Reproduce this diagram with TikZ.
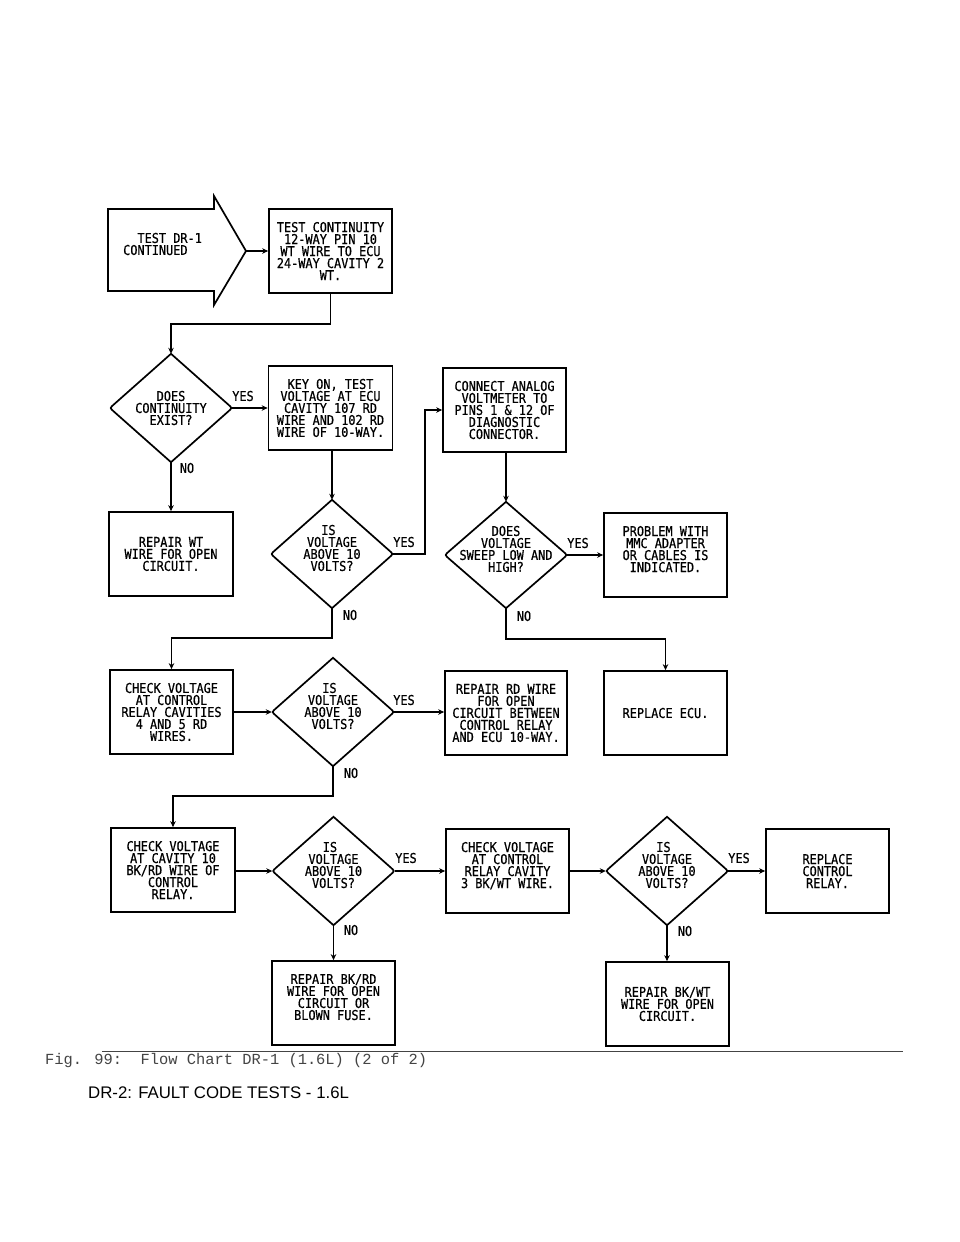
\documentclass[tikz,border=0pt]{standalone}
\usepackage{fontspec}
\usetikzlibrary{shapes.geometric,arrows.meta,calc}
\setmainfont{Liberation Sans}
\newfontfamily\chartfont[FakeStretch=0.88,FakeBold=0.6]{DejaVu Sans Mono}
\newfontfamily\capfont{Liberation Mono}
\newcommand\ind{\mbox{\ }}
\newcommand\decoutline[1]{\draw[ink,line join=miter]
  (#1.north) -- ($(#1.east)+(-4,-3.5)$) .. controls (#1.east) .. ($(#1.east)+(-4,3.5)$)
  -- (#1.south) -- ($(#1.west)+(4,3.5)$) .. controls (#1.west) .. ($(#1.west)+(4,-3.5)$) -- cycle;}
\definecolor{capgray}{HTML}{444444}
\tikzset{
  ink/.style={line width=1.7pt,draw=black},
  chartbox/.style 2 args={ink,shape=rectangle,inner sep=0pt,align=center,
    minimum width=#1pt,minimum height=#2pt,
    font={\chartfont\fontsize{13.5pt}{12pt}\selectfont}},
  decision/.style={shape=diamond,aspect=1.12,inner sep=0pt,
    minimum width=122pt,minimum height=108pt},
  dectext/.style={inner sep=0pt,align=center,
    font={\chartfont\fontsize{13.5pt}{12pt}\selectfont}},
  yn/.style={inner sep=0pt,font={\chartfont\fontsize{13.5pt}{12pt}\selectfont}},
  conn/.style={line width=1.6pt,draw=black,-{Stealth[length=6pt,width=5.5pt]}}
}
\begin{document}
\begin{tikzpicture}[x=1pt,y=-1pt]
\useasboundingbox[fill=white] (0,0) rectangle (960,1242);

% start arrow
\coordinate (starttip) at (246,251);
\draw[ink,line join=miter] (108,209) -- (214,209) -- (214,196) -- (starttip) -- (214,305) -- (214,291) -- (108,291) -- cycle;
\node[dectext,align=left,anchor=west] (startt) at (123,244) {\ind\ind TEST DR-1\\CONTINUED};

% row 1
\node[chartbox={123}{84}] (t1) at (330.5,251) {TEST CONTINUITY\\12-WAY PIN 10\\WT WIRE TO ECU\\24-WAY CAVITY 2\\WT.};

% row 2
\node[decision] (d1) at (171,408) {};
\decoutline{d1}
\node[dectext] (d1t) at (d1) {DOES\\CONTINUITY\\EXIST?};
\node[chartbox={124}{84}] (k) at (330.5,408) {KEY ON, TEST\\VOLTAGE AT ECU\\CAVITY 107 RD\\WIRE AND 102 RD\\WIRE OF 10-WAY.};
\node[chartbox={123}{84}] (c) at (504.5,410) {CONNECT ANALOG\\VOLTMETER TO\\PINS 1 \& 12 OF\\DIAGNOSTIC\\CONNECTOR.};

% row 3
\node[chartbox={124}{84}] (rw) at (171,554) {REPAIR WT\\WIRE FOR OPEN\\CIRCUIT.};
\node[decision] (d2) at (332,554) {};
\decoutline{d2}
\node[dectext,yshift=6pt] (d2t) at (d2) {IS\ind\\VOLTAGE\\ABOVE 10\\VOLTS?};
\node[decision,minimum height=106pt] (d3) at (506,555) {};
\decoutline{d3}
\node[dectext,yshift=6pt] (d3t) at (d3) {DOES\\VOLTAGE\\SWEEP LOW AND\\HIGH?};
\node[chartbox={123}{84}] (p) at (665.5,555) {PROBLEM WITH\\MMC ADAPTER\\OR CABLES IS\\INDICATED.\\\mbox{}};

% row 4
\node[chartbox={123}{84}] (chk1) at (171.5,712) {CHECK VOLTAGE\\AT CONTROL\\RELAY CAVITIES\\4 AND 5 RD\\WIRES.};
\node[decision] (d4) at (333,712) {};
\decoutline{d4}
\node[dectext,yshift=6pt] (d4t) at (d4) {IS\ind\\VOLTAGE\\ABOVE 10\\VOLTS?};
\node[chartbox={122}{84}] (rr) at (506,713) {REPAIR RD WIRE\\FOR OPEN\\CIRCUIT BETWEEN\\CONTROL RELAY\\AND ECU 10-WAY.};
\node[chartbox={123}{84}] (re) at (665.5,713) {REPLACE ECU.};

% row 5
\node[chartbox={124}{84}] (chk2) at (173,870) {CHECK VOLTAGE\\AT CAVITY 10\\BK/RD WIRE OF\\CONTROL\\RELAY.};
\node[decision] (d5) at (333.5,871) {};
\decoutline{d5}
\node[dectext,yshift=6pt] (d5t) at (d5) {IS\ind\\VOLTAGE\\ABOVE 10\\VOLTS?};
\node[chartbox={123}{84}] (chk3) at (507.5,871) {CHECK VOLTAGE\\AT CONTROL\\RELAY CAVITY\\3 BK/WT WIRE.\\\mbox{}};
\node[decision] (d6) at (667,871) {};
\decoutline{d6}
\node[dectext,yshift=6pt] (d6t) at (d6) {IS\ind\\VOLTAGE\\ABOVE 10\\VOLTS?};
\node[chartbox={123}{84}] (rep) at (827.5,871) {REPLACE\\CONTROL\\RELAY.};

% row 6
\node[chartbox={123}{84}] (rb) at (333.5,1003) {REPAIR BK/RD\\WIRE FOR OPEN\\CIRCUIT OR\\BLOWN FUSE.\\\mbox{}};
\node[chartbox={123}{84}] (rbw) at (667.5,1004) {REPAIR BK/WT\\WIRE FOR OPEN\\CIRCUIT.};

% connectors
\draw[conn] (starttip) -- (starttip -| t1.west);
\draw[conn] (t1.south) -- ++(0,30) -| (d1.north);
\draw[conn] (d1.east) -- (d1.east -| k.west);
\draw[conn] (d1.south) -- (rw.north);
\draw[conn] (k.south -| d2.north) -- (d2.north);
\draw[conn] (d2.east) -- ++(32,0) |- (c.west);
\draw[conn] (d2.south) -- ++(0,30) -| (chk1.north);
\draw[conn] (c.south -| d3.north) -- (d3.north);
\draw[conn] (d3.east) -- (d3.east -| p.west);
\draw[conn] (d3.south) -- ++(0,31) -| (re.north);
\draw[conn] (d4.west -| chk1.east) -- (d4.west);
\draw[conn] (d4.east) -- (d4.east -| rr.west);
\draw[conn] (d4.south) -- ++(0,30) -| (chk2.north);
\draw[conn] (d5.west -| chk2.east) -- (d5.west);
\draw[conn] (d5.east) -- (d5.east -| chk3.west);
\draw[conn] (d5.south) -- (d5.south |- rb.north);
\draw[conn] (chk3.east) -- (d6.west);
\draw[conn] (d6.east) -- (d6.east -| rep.west);
\draw[conn] (d6.south) -- (d6.south |- rbw.north);

% YES / NO
\node[yn] (y1) at (243,396) {YES};
\node[yn] (n1) at (187,468) {NO};
\node[yn] (y2) at (404,542) {YES};
\node[yn] (n2) at (350,615) {NO};
\node[yn] (y3) at (578,543) {YES};
\node[yn] (n3) at (524,616) {NO};
\node[yn] (y4) at (404,700) {YES};
\node[yn] (n4) at (351,773) {NO};
\node[yn] (y5) at (406,858) {YES};
\node[yn] (n5) at (351,930) {NO};
\node[yn] (y6) at (739,858) {YES};
\node[yn] (n6) at (685,931) {NO};

% caption
\coordinate (ruleL) at (102,1051.5);
\coordinate (ruleR) at (903,1051.5);
\draw[capgray,line width=0.8pt] (ruleL) -- (ruleR);
\node[anchor=base west,inner sep=0pt,text=capgray,font={\capfont\fontsize{15.4pt}{18pt}\selectfont}] (cap) at (45,1064) {Fig. 99:\ \ Flow Chart DR-1 (1.6L) (2 of 2)};
\node[anchor=base west,inner sep=0pt,font={\fontsize{16.8pt}{20pt}\selectfont}] (sec) at (88,1098.5) {DR-2: FAULT CODE TESTS - 1.6L};
\end{tikzpicture}
\end{document}
